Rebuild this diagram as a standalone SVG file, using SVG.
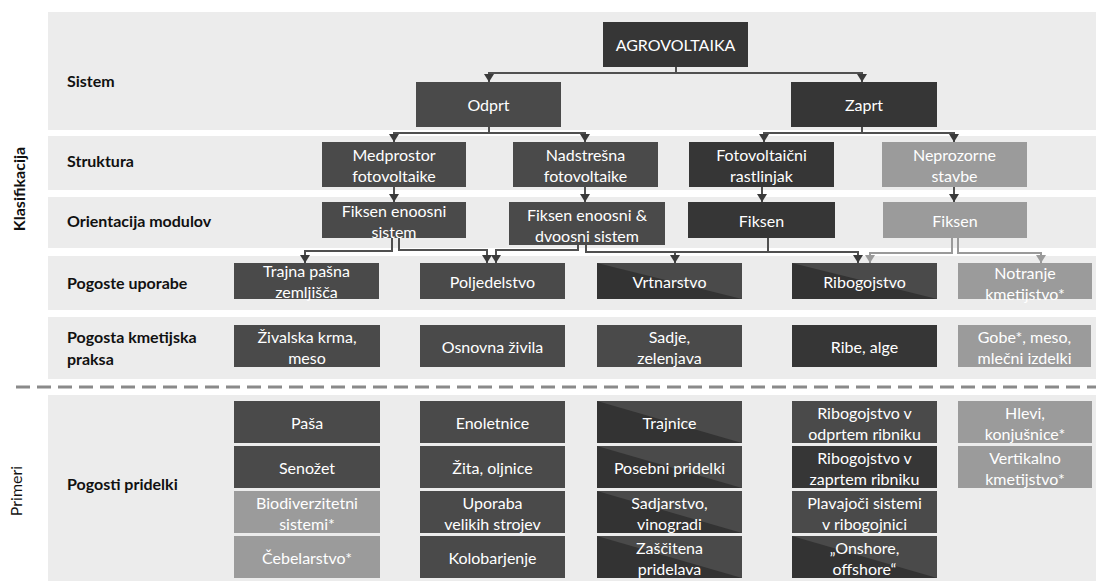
<svg xmlns="http://www.w3.org/2000/svg" width="1096" height="581" viewBox="0 0 1096 581">
<style>
.band{fill:#ececec}
.lbl{font-family:Lato,"Liberation Sans",sans-serif;font-weight:bold;font-size:16px;fill:#111}
.side{font-family:Lato,"Liberation Sans",sans-serif;font-size:16px;fill:#111;text-anchor:middle}
.bt{font-family:Lato,"Liberation Sans",sans-serif;font-size:16px;fill:#fff;text-anchor:middle;dominant-baseline:central}
.o{fill:#4a4a4a}
.c{fill:#363636}
.l{fill:#9b9b9b}
.d{fill:#333333}
.cn{fill:none;stroke:#505050;stroke-width:2}
.cg{fill:none;stroke:#9a9a9a;stroke-width:2}
</style>
<defs>
<marker id="ah" markerUnits="userSpaceOnUse" markerWidth="10" markerHeight="10" refX="8" refY="5" orient="auto"><path d="M0,0 L8,5 L0,10 Z" fill="#3a3a3a"/></marker>
<marker id="ahg" markerUnits="userSpaceOnUse" markerWidth="10" markerHeight="10" refX="8" refY="5" orient="auto"><path d="M0,0 L8,5 L0,10 Z" fill="#9a9a9a"/></marker>
</defs>
<rect width="1096" height="581" fill="#fff"/>
<g id="bands">
<rect class="band" x="48" y="12" width="1048" height="118"/>
<rect class="band" x="48" y="136" width="1048" height="54"/>
<rect class="band" x="48" y="197" width="1048" height="51"/>
<rect class="band" x="48" y="256" width="1048" height="54"/>
<rect class="band" x="48" y="317" width="1048" height="62"/>
<rect class="band" x="48" y="395" width="1048" height="186"/>
<line x1="16" y1="387" x2="1096" y2="387" stroke="#8a8a8a" stroke-width="3" stroke-dasharray="14 7"/>
</g>
<g id="labels">
<text class="lbl" x="67" y="87">Sistem</text>
<text class="lbl" x="67" y="167">Struktura</text>
<text class="lbl" x="67" y="227">Orientacija modulov</text>
<text class="lbl" x="67" y="289">Pogoste uporabe</text>
<text class="lbl" x="67" y="343">Pogosta kmetijska</text>
<text class="lbl" x="67" y="365">praksa</text>
<text class="lbl" x="67" y="490">Pogosti pridelki</text>
<text class="side" font-weight="bold" transform="translate(25,189) rotate(-90)">Klasifikacija</text>
<text class="side" transform="translate(22,491) rotate(-90)">Primeri</text>
</g>
<g id="connectors">
<path class="cn" d="M676,67 V73 H489 V82" marker-end="url(#ah)"/>
<path class="cn" d="M676,73 H862 V82" marker-end="url(#ah)"/>
<path class="cn" d="M489,127 V133 H394 V142" marker-end="url(#ah)"/>
<path class="cn" d="M489,133 H585 V142" marker-end="url(#ah)"/>
<path class="cn" d="M862,127 V133 H764 V142" marker-end="url(#ah)"/>
<path class="cn" d="M862,133 H954 V142" marker-end="url(#ah)"/>
<path class="cn" d="M394,187 V202" marker-end="url(#ah)"/>
<path class="cn" d="M585,187 V202" marker-end="url(#ah)"/>
<path class="cn" d="M762,187 V202" marker-end="url(#ah)"/>
<path class="cn" d="M954,187 V202" marker-end="url(#ah)"/>
<path class="cn" d="M392,238 V251 H305 V263" marker-end="url(#ah)"/>
<path class="cn" d="M399,238 V250 H487 V263" marker-end="url(#ah)"/>
<path class="cn" d="M578,245 V250 H496 V263" marker-end="url(#ah)"/>
<path class="cn" d="M586,245 V252 H675 V263" marker-end="url(#ah)"/>
<path class="cn" d="M675,252 H858 V263" marker-end="url(#ah)"/>
<path class="cn" d="M768,238 V252"/>
<path class="cg" d="M952,238 V253 H870 V263" marker-end="url(#ahg)"/>
<path class="cg" d="M958,238 V253 H1041 V263" marker-end="url(#ahg)"/>
</g>
<g id="n_agro"><rect class="c" x="603" y="22" width="145" height="45"/><text class="bt" x="675.5" y="44.5">AGROVOLTAIKA</text></g>
<g id="n_odprt"><rect class="o" x="416" y="82" width="145" height="45"/><text class="bt" x="488.5" y="104.5">Odprt</text></g>
<g id="n_zaprt"><rect class="c" x="791" y="82" width="146" height="45"/><text class="bt" x="864" y="104.5">Zaprt</text></g>
<g id="n_medprostor"><rect class="o" x="322" y="142" width="144" height="45"/><text class="bt" x="394" y="154">Medprostor</text><text class="bt" x="394" y="175">fotovoltaike</text></g>
<g id="n_nadstresna"><rect class="o" x="513" y="142" width="145" height="45"/><text class="bt" x="585.5" y="154">Nadstrešna</text><text class="bt" x="585.5" y="175">fotovoltaike</text></g>
<g id="n_rastlinjak"><rect class="c" x="689" y="142" width="145" height="45"/><text class="bt" x="761.5" y="154">Fotovoltaični</text><text class="bt" x="761.5" y="175">rastlinjak</text></g>
<g id="n_neprozorne"><rect class="l" x="882" y="142" width="145" height="45"/><text class="bt" x="954.5" y="154">Neprozorne</text><text class="bt" x="954.5" y="175">stavbe</text></g>
<g id="n_enoosni"><rect class="o" x="322" y="202" width="144" height="36"/><text class="bt" x="394" y="210">Fiksen enoosni</text><text class="bt" x="394" y="231">sistem</text></g>
<g id="n_dvoosni"><rect class="o" x="509" y="202" width="156" height="43"/><text class="bt" x="587" y="214">Fiksen enoosni &amp;</text><text class="bt" x="587" y="235">dvoosni sistem</text></g>
<g id="n_fiksen_zaprt"><rect class="c" x="688" y="202" width="147" height="36"/><text class="bt" x="761.5" y="220">Fiksen</text></g>
<g id="n_fiksen_neprozorne"><rect class="l" x="883" y="202" width="144" height="36"/><text class="bt" x="955" y="220">Fiksen</text></g>
<g id="n_trajna"><rect class="o" x="234" y="263" width="145" height="36"/><text class="bt" x="306.5" y="270">Trajna pašna</text><text class="bt" x="306.5" y="291">zemljišča</text></g>
<g id="n_poljedelstvo"><rect class="o" x="420" y="263" width="145" height="36"/><text class="bt" x="492.5" y="281">Poljedelstvo</text></g>
<g id="n_vrtnarstvo"><rect class="o" x="597" y="263" width="145" height="36"/><polygon class="d" points="597,263 742,299 597,299"/><text class="bt" x="669.5" y="281">Vrtnarstvo</text></g>
<g id="n_ribogojstvo"><rect class="o" x="792" y="263" width="145" height="36"/><polygon class="d" points="792,263 937,299 792,299"/><text class="bt" x="864.5" y="281">Ribogojstvo</text></g>
<g id="n_notranje"><rect class="l" x="958" y="263" width="134" height="36"/><text class="bt" x="1025" y="272">Notranje</text><text class="bt" x="1025" y="293">kmetijstvo*</text></g>
<g id="n_zivalska"><rect class="o" x="234" y="325" width="146" height="42"/><text class="bt" x="307" y="336">Živalska krma,</text><text class="bt" x="307" y="357">meso</text></g>
<g id="n_osnovna"><rect class="o" x="420" y="325" width="145" height="42"/><text class="bt" x="492.5" y="346">Osnovna živila</text></g>
<g id="n_sadje"><rect class="o" x="597" y="325" width="145" height="42"/><text class="bt" x="669.5" y="336">Sadje,</text><text class="bt" x="669.5" y="357">zelenjava</text></g>
<g id="n_ribe"><rect class="c" x="792" y="325" width="145" height="42"/><text class="bt" x="864.5" y="346">Ribe, alge</text></g>
<g id="n_gobe"><rect class="l" x="958" y="325" width="133" height="42"/><text class="bt" x="1024.5" y="336">Gobe*, meso,</text><text class="bt" x="1024.5" y="357">mlečni izdelki</text></g>
<g id="n_pasa"><rect class="o" x="234" y="401" width="146" height="42"/><text class="bt" x="307" y="422">Paša</text></g>
<g id="n_senozet"><rect class="o" x="234" y="446" width="146" height="42"/><text class="bt" x="307" y="467">Senožet</text></g>
<g id="n_biodiverzitetni"><rect class="l" x="234" y="491" width="146" height="42"/><text class="bt" x="307" y="502">Biodiverzitetni</text><text class="bt" x="307" y="523">sistemi*</text></g>
<g id="n_cebelarstvo"><rect class="l" x="234" y="536" width="146" height="42"/><text class="bt" x="307" y="557">Čebelarstvo*</text></g>
<g id="n_enoletnice"><rect class="o" x="420" y="401" width="145" height="42"/><text class="bt" x="492.5" y="422">Enoletnice</text></g>
<g id="n_zita"><rect class="o" x="420" y="446" width="145" height="42"/><text class="bt" x="492.5" y="467">Žita, oljnice</text></g>
<g id="n_uporaba"><rect class="o" x="420" y="491" width="145" height="42"/><text class="bt" x="492.5" y="502">Uporaba</text><text class="bt" x="492.5" y="523">velikih strojev</text></g>
<g id="n_kolobarjenje"><rect class="o" x="420" y="536" width="145" height="42"/><text class="bt" x="492.5" y="557">Kolobarjenje</text></g>
<g id="n_trajnice"><rect class="o" x="597" y="401" width="145" height="42"/><polygon class="d" points="597,401 742,443 597,443"/><text class="bt" x="669.5" y="422">Trajnice</text></g>
<g id="n_posebni"><rect class="o" x="597" y="446" width="145" height="42"/><polygon class="d" points="597,446 742,488 597,488"/><text class="bt" x="669.5" y="467">Posebni pridelki</text></g>
<g id="n_sadjarstvo"><rect class="o" x="597" y="491" width="145" height="42"/><polygon class="d" points="597,491 742,533 597,533"/><text class="bt" x="669.5" y="502">Sadjarstvo,</text><text class="bt" x="669.5" y="523">vinogradi</text></g>
<g id="n_zascitena"><rect class="o" x="597" y="536" width="145" height="42"/><polygon class="d" points="597,536 742,578 597,578"/><text class="bt" x="669.5" y="547">Zaščitena</text><text class="bt" x="669.5" y="568">pridelava</text></g>
<g id="n_odprt_ribnik"><rect class="o" x="792" y="401" width="145" height="42"/><text class="bt" x="864.5" y="412">Ribogojstvo v</text><text class="bt" x="864.5" y="433">odprtem ribniku</text></g>
<g id="n_zaprt_ribnik"><rect class="c" x="792" y="446" width="145" height="42"/><text class="bt" x="864.5" y="457">Ribogojstvo v</text><text class="bt" x="864.5" y="478">zaprtem ribniku</text></g>
<g id="n_plavajoci"><rect class="o" x="792" y="491" width="145" height="42"/><text class="bt" x="864.5" y="502">Plavajoči sistemi</text><text class="bt" x="864.5" y="523">v ribogojnici</text></g>
<g id="n_onshore"><rect class="o" x="792" y="536" width="145" height="42"/><polygon class="d" points="792,536 937,578 792,578"/><text class="bt" x="864.5" y="547">„Onshore,</text><text class="bt" x="864.5" y="568">offshore“</text></g>
<g id="n_hlevi"><rect class="l" x="958" y="401" width="134" height="42"/><text class="bt" x="1025" y="412">Hlevi,</text><text class="bt" x="1025" y="433">konjušnice*</text></g>
<g id="n_vertikalno"><rect class="l" x="958" y="446" width="134" height="42"/><text class="bt" x="1025" y="457">Vertikalno</text><text class="bt" x="1025" y="478">kmetijstvo*</text></g>
</svg>
